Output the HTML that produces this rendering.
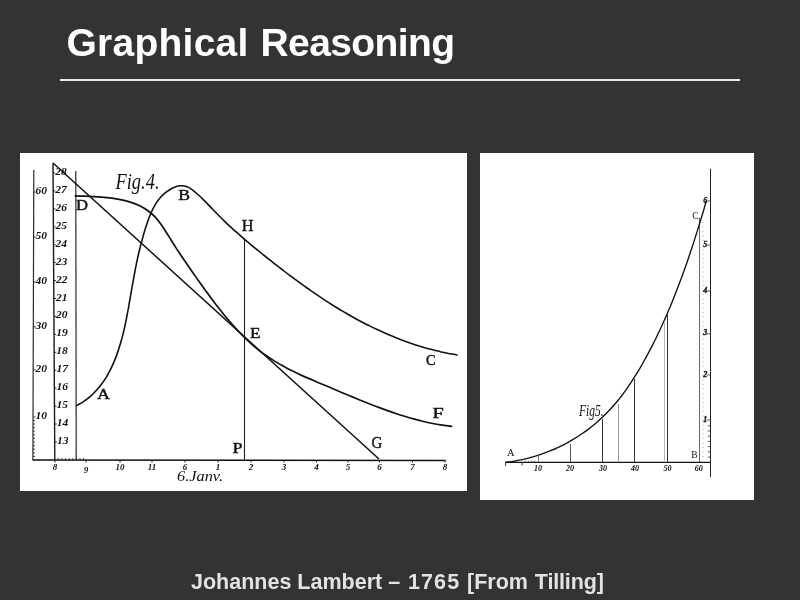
<!DOCTYPE html>
<html><head><meta charset="utf-8"><title>Graphical Reasoning</title>
<style>
html,body{margin:0;padding:0}
body{width:800px;height:600px;background:#333333;position:relative;overflow:hidden;font-family:"Liberation Sans",sans-serif}
h1{position:absolute;left:0;top:20px;margin:0;font-size:39px;line-height:46px;font-weight:bold;color:#fff;white-space:nowrap;width:800px;height:46px}
h1 span,.cap span{position:absolute;top:0}
.rule{position:absolute;left:60px;top:79px;width:680px;height:2px;background:#e9e9e9}
.p1{position:absolute;left:20px;top:153px;width:447px;height:338px;background:#fff}
.p2{position:absolute;left:480px;top:153px;width:274px;height:346.5px;background:#fff}
.cap{position:absolute;left:0;top:570px;margin:0;font-size:21.5px;line-height:24px;font-weight:bold;color:#e3e3e3;white-space:nowrap;width:800px;height:24px}
svg{position:absolute;left:0;top:0}
</style></head><body>
<h1><span style="left:66.5px;letter-spacing:0.25px">Graphical</span> <span style="left:260.5px;letter-spacing:-0.6px">Reasoning</span></h1>
<div class="rule"></div>
<div class="p1"></div>
<div class="p2"></div>
<svg width="800" height="600" viewBox="0 0 800 600">
<line x1="33.8" y1="170.0" x2="32.9" y2="460.0" stroke="#2a2a2a" stroke-width="1.20" />
<line x1="53.0" y1="163.0" x2="54.8" y2="460.0" stroke="#1a1a1a" stroke-width="1.40" />
<line x1="75.8" y1="171.0" x2="76.2" y2="460.0" stroke="#2a2a2a" stroke-width="1.20" />
<line x1="32.5" y1="460.1" x2="445.5" y2="460.6" stroke="#111" stroke-width="1.50" />
<line x1="244.5" y1="238.0" x2="244.5" y2="460.0" stroke="#222" stroke-width="1.10" />
<line x1="53.0" y1="163.0" x2="379.0" y2="459.0" stroke="#111" stroke-width="1.50" />
<path d="M76.4 405.6 C77.6 404.9 81.5 402.9 83.9 401.3 C86.3 399.7 88.5 398.0 90.6 396.1 C92.7 394.3 94.7 392.3 96.5 390.3 C98.4 388.2 100.2 386.1 101.8 383.8 C103.5 381.6 105.0 379.2 106.5 376.8 C107.9 374.4 109.3 371.9 110.5 369.4 C111.8 366.9 113.0 364.3 114.1 361.6 C115.2 359.0 116.2 356.3 117.2 353.6 C118.1 351.0 119.0 348.3 119.8 345.5 C120.7 342.8 121.4 340.1 122.2 337.3 C122.9 334.6 123.6 331.8 124.2 329.1 C124.9 326.3 125.4 323.5 126.0 320.7 C126.6 318.0 127.1 315.2 127.6 312.4 C128.2 309.6 128.7 306.8 129.1 304.0 C129.6 301.3 130.1 298.5 130.6 295.7 C131.1 292.9 131.5 290.2 132.0 287.4 C132.5 284.6 133.0 281.9 133.5 279.2 C134.0 276.4 134.5 273.7 135.0 270.9 C135.5 268.2 136.1 265.5 136.6 262.7 C137.2 260.0 137.8 257.3 138.4 254.5 C139.0 251.8 139.7 249.1 140.4 246.3 C141.1 243.6 141.8 240.9 142.6 238.1 C143.3 235.4 144.1 232.6 145.0 229.8 C145.8 227.1 146.7 224.3 147.7 221.5 C148.7 218.7 149.7 216.0 150.9 213.3 C152.0 210.6 153.3 208.0 154.7 205.6 C156.1 203.1 157.7 200.7 159.5 198.6 C161.3 196.4 163.3 194.4 165.4 192.7 C167.5 191.0 169.8 189.4 172.2 188.2 C174.6 187.1 177.1 186.1 179.6 185.8 C182.1 185.6 184.7 185.8 187.2 186.8 C189.7 187.8 192.2 189.8 194.5 191.6 C196.8 193.4 199.0 195.5 201.2 197.5 C203.3 199.6 205.3 201.6 207.3 203.6 C209.3 205.7 211.2 207.7 213.1 209.8 C215.1 211.8 217.0 213.8 219.0 215.8 C221.0 217.8 223.0 219.8 225.1 221.8 C227.1 223.7 229.2 225.6 231.3 227.6 C233.4 229.5 235.5 231.4 237.6 233.2 C239.7 235.1 241.9 237.0 244.0 238.8 C246.2 240.6 248.3 242.5 250.5 244.3 C252.6 246.1 254.8 247.9 257.0 249.7 C259.1 251.4 261.3 253.2 263.5 255.0 C265.7 256.7 267.9 258.5 270.1 260.2 C272.3 261.9 274.5 263.7 276.7 265.4 C278.9 267.1 281.1 268.8 283.4 270.5 C285.6 272.3 287.8 274.0 290.1 275.6 C292.4 277.3 294.6 279.0 296.9 280.7 C299.2 282.4 301.5 284.0 303.8 285.7 C306.1 287.3 308.4 289.0 310.8 290.6 C313.1 292.2 315.4 293.8 317.8 295.4 C320.1 297.0 322.5 298.5 324.9 300.1 C327.3 301.7 329.6 303.2 332.0 304.7 C334.4 306.2 336.8 307.7 339.3 309.2 C341.7 310.6 344.1 312.1 346.6 313.5 C349.0 314.9 351.5 316.3 354.0 317.7 C356.4 319.1 358.9 320.4 361.4 321.7 C363.9 323.1 366.4 324.4 369.0 325.6 C371.5 326.9 374.0 328.1 376.6 329.3 C379.1 330.5 381.7 331.7 384.2 332.8 C386.8 334.0 389.4 335.1 392.0 336.1 C394.6 337.2 397.2 338.3 399.8 339.3 C402.5 340.3 405.1 341.3 407.8 342.2 C410.4 343.1 413.1 344.0 415.8 344.9 C418.5 345.8 421.1 346.6 423.9 347.4 C426.6 348.2 429.3 348.9 432.0 349.6 C434.7 350.4 437.5 351.0 440.3 351.7 C443.0 352.3 445.8 352.9 448.6 353.5 C451.4 354.0 455.6 354.7 457.0 355.0" fill="none" stroke="#111" stroke-width="1.60" stroke-linecap="round" stroke-linejoin="round"/>
<path d="M75.4 195.9 C77.0 195.9 81.6 196.1 84.8 196.2 C88.0 196.4 91.2 196.5 94.4 196.7 C97.6 196.9 100.9 197.0 104.1 197.3 C107.3 197.6 110.5 197.9 113.6 198.4 C116.8 198.9 119.9 199.4 123.0 200.1 C126.0 200.8 129.0 201.6 131.9 202.6 C134.8 203.5 137.6 204.7 140.3 206.0 C142.9 207.4 145.5 208.9 147.9 210.7 C150.4 212.5 152.7 214.5 154.8 216.7 C156.9 218.9 158.9 221.5 160.8 224.1 C162.7 226.7 164.5 229.5 166.2 232.2 C168.0 235.0 169.7 237.8 171.4 240.5 C173.1 243.3 174.8 246.0 176.5 248.6 C178.2 251.3 180.0 253.9 181.7 256.5 C183.4 259.0 185.2 261.6 186.9 264.1 C188.6 266.7 190.4 269.2 192.2 271.7 C193.9 274.2 195.7 276.7 197.5 279.3 C199.3 281.8 201.1 284.4 203.0 286.9 C204.8 289.5 206.6 292.0 208.5 294.6 C210.4 297.1 212.3 299.7 214.2 302.2 C216.1 304.8 218.1 307.3 220.1 309.8 C222.0 312.3 224.0 314.8 226.1 317.3 C228.1 319.7 230.2 322.2 232.3 324.6 C234.4 327.0 236.6 329.3 238.8 331.6 C241.0 333.9 243.2 336.2 245.5 338.4 C247.7 340.6 250.0 342.7 252.4 344.8 C254.8 346.8 257.2 348.9 259.6 350.8 C262.1 352.7 264.6 354.6 267.2 356.3 C269.7 358.1 272.4 359.8 275.0 361.4 C277.7 363.1 280.4 364.6 283.1 366.1 C285.9 367.6 288.6 369.1 291.4 370.5 C294.2 371.9 297.1 373.2 299.9 374.6 C302.8 375.9 305.7 377.2 308.6 378.4 C311.5 379.7 314.4 380.9 317.3 382.2 C320.2 383.4 323.1 384.6 326.1 385.8 C329.0 387.1 331.9 388.3 334.8 389.5 C337.8 390.7 340.7 392.0 343.6 393.2 C346.5 394.4 349.4 395.6 352.4 396.9 C355.3 398.1 358.2 399.3 361.1 400.5 C364.1 401.6 367.0 402.8 369.9 404.0 C372.9 405.1 375.8 406.3 378.8 407.4 C381.7 408.5 384.7 409.6 387.6 410.6 C390.6 411.7 393.5 412.7 396.5 413.7 C399.5 414.7 402.5 415.6 405.5 416.5 C408.5 417.5 411.5 418.3 414.5 419.1 C417.6 420.0 420.6 420.7 423.7 421.5 C426.7 422.2 429.8 422.9 432.9 423.5 C436.0 424.1 439.1 424.6 442.2 425.1 C445.3 425.6 450.0 426.2 451.6 426.4" fill="none" stroke="#111" stroke-width="1.70" stroke-linecap="round" stroke-linejoin="round"/>
<text x="35.5" y="194.0" font-size="9.5" font-style="italic" font-weight="bold" text-anchor="start" font-family="'Liberation Serif',serif" fill="#111" textLength="11.5" lengthAdjust="spacingAndGlyphs">60</text>
<line x1="33.5" y1="192.0" x2="35.5" y2="192.0" stroke="#222" stroke-width="1.00" />
<text x="35.5" y="239.0" font-size="9.5" font-style="italic" font-weight="bold" text-anchor="start" font-family="'Liberation Serif',serif" fill="#111" textLength="11.5" lengthAdjust="spacingAndGlyphs">50</text>
<line x1="33.5" y1="237.0" x2="35.5" y2="237.0" stroke="#222" stroke-width="1.00" />
<text x="35.5" y="284.0" font-size="9.5" font-style="italic" font-weight="bold" text-anchor="start" font-family="'Liberation Serif',serif" fill="#111" textLength="11.5" lengthAdjust="spacingAndGlyphs">40</text>
<line x1="33.5" y1="282.0" x2="35.5" y2="282.0" stroke="#222" stroke-width="1.00" />
<text x="35.5" y="328.8" font-size="9.5" font-style="italic" font-weight="bold" text-anchor="start" font-family="'Liberation Serif',serif" fill="#111" textLength="11.5" lengthAdjust="spacingAndGlyphs">30</text>
<line x1="33.5" y1="326.8" x2="35.5" y2="326.8" stroke="#222" stroke-width="1.00" />
<text x="35.5" y="371.8" font-size="9.5" font-style="italic" font-weight="bold" text-anchor="start" font-family="'Liberation Serif',serif" fill="#111" textLength="11.5" lengthAdjust="spacingAndGlyphs">20</text>
<line x1="33.5" y1="369.8" x2="35.5" y2="369.8" stroke="#222" stroke-width="1.00" />
<text x="35.5" y="419.0" font-size="9.5" font-style="italic" font-weight="bold" text-anchor="start" font-family="'Liberation Serif',serif" fill="#111" textLength="11.5" lengthAdjust="spacingAndGlyphs">10</text>
<line x1="33.5" y1="417.0" x2="35.5" y2="417.0" stroke="#222" stroke-width="1.00" />
<text x="55.2" y="175.0" font-size="9.5" font-style="italic" font-weight="bold" text-anchor="start" font-family="'Liberation Serif',serif" fill="#111" textLength="11.5" lengthAdjust="spacingAndGlyphs">28</text>
<line x1="53.2" y1="173.0" x2="55.2" y2="173.0" stroke="#222" stroke-width="1.00" />
<text x="55.3" y="192.9" font-size="9.5" font-style="italic" font-weight="bold" text-anchor="start" font-family="'Liberation Serif',serif" fill="#111" textLength="11.5" lengthAdjust="spacingAndGlyphs">27</text>
<line x1="53.3" y1="190.9" x2="55.3" y2="190.9" stroke="#222" stroke-width="1.00" />
<text x="55.4" y="210.9" font-size="9.5" font-style="italic" font-weight="bold" text-anchor="start" font-family="'Liberation Serif',serif" fill="#111" textLength="11.5" lengthAdjust="spacingAndGlyphs">26</text>
<line x1="53.4" y1="208.9" x2="55.4" y2="208.9" stroke="#222" stroke-width="1.00" />
<text x="55.5" y="228.8" font-size="9.5" font-style="italic" font-weight="bold" text-anchor="start" font-family="'Liberation Serif',serif" fill="#111" textLength="11.5" lengthAdjust="spacingAndGlyphs">25</text>
<line x1="53.5" y1="226.8" x2="55.5" y2="226.8" stroke="#222" stroke-width="1.00" />
<text x="55.6" y="246.7" font-size="9.5" font-style="italic" font-weight="bold" text-anchor="start" font-family="'Liberation Serif',serif" fill="#111" textLength="11.5" lengthAdjust="spacingAndGlyphs">24</text>
<line x1="53.6" y1="244.7" x2="55.6" y2="244.7" stroke="#222" stroke-width="1.00" />
<text x="55.8" y="264.6" font-size="9.5" font-style="italic" font-weight="bold" text-anchor="start" font-family="'Liberation Serif',serif" fill="#111" textLength="11.5" lengthAdjust="spacingAndGlyphs">23</text>
<line x1="53.8" y1="262.6" x2="55.8" y2="262.6" stroke="#222" stroke-width="1.00" />
<text x="55.9" y="282.6" font-size="9.5" font-style="italic" font-weight="bold" text-anchor="start" font-family="'Liberation Serif',serif" fill="#111" textLength="11.5" lengthAdjust="spacingAndGlyphs">22</text>
<line x1="53.9" y1="280.6" x2="55.9" y2="280.6" stroke="#222" stroke-width="1.00" />
<text x="56.0" y="300.5" font-size="9.5" font-style="italic" font-weight="bold" text-anchor="start" font-family="'Liberation Serif',serif" fill="#111" textLength="11.5" lengthAdjust="spacingAndGlyphs">21</text>
<line x1="54.0" y1="298.5" x2="56.0" y2="298.5" stroke="#222" stroke-width="1.00" />
<text x="56.1" y="318.4" font-size="9.5" font-style="italic" font-weight="bold" text-anchor="start" font-family="'Liberation Serif',serif" fill="#111" textLength="11.5" lengthAdjust="spacingAndGlyphs">20</text>
<line x1="54.1" y1="316.4" x2="56.1" y2="316.4" stroke="#222" stroke-width="1.00" />
<text x="56.2" y="336.4" font-size="9.5" font-style="italic" font-weight="bold" text-anchor="start" font-family="'Liberation Serif',serif" fill="#111" textLength="11.5" lengthAdjust="spacingAndGlyphs">19</text>
<line x1="54.2" y1="334.4" x2="56.2" y2="334.4" stroke="#222" stroke-width="1.00" />
<text x="56.3" y="354.3" font-size="9.5" font-style="italic" font-weight="bold" text-anchor="start" font-family="'Liberation Serif',serif" fill="#111" textLength="11.5" lengthAdjust="spacingAndGlyphs">18</text>
<line x1="54.3" y1="352.3" x2="56.3" y2="352.3" stroke="#222" stroke-width="1.00" />
<text x="56.4" y="372.2" font-size="9.5" font-style="italic" font-weight="bold" text-anchor="start" font-family="'Liberation Serif',serif" fill="#111" textLength="11.5" lengthAdjust="spacingAndGlyphs">17</text>
<line x1="54.4" y1="370.2" x2="56.4" y2="370.2" stroke="#222" stroke-width="1.00" />
<text x="56.5" y="390.2" font-size="9.5" font-style="italic" font-weight="bold" text-anchor="start" font-family="'Liberation Serif',serif" fill="#111" textLength="11.5" lengthAdjust="spacingAndGlyphs">16</text>
<line x1="54.5" y1="388.2" x2="56.5" y2="388.2" stroke="#222" stroke-width="1.00" />
<text x="56.6" y="408.1" font-size="9.5" font-style="italic" font-weight="bold" text-anchor="start" font-family="'Liberation Serif',serif" fill="#111" textLength="11.5" lengthAdjust="spacingAndGlyphs">15</text>
<line x1="54.6" y1="406.1" x2="56.6" y2="406.1" stroke="#222" stroke-width="1.00" />
<text x="56.7" y="426.0" font-size="9.5" font-style="italic" font-weight="bold" text-anchor="start" font-family="'Liberation Serif',serif" fill="#111" textLength="11.5" lengthAdjust="spacingAndGlyphs">14</text>
<line x1="54.7" y1="424.0" x2="56.7" y2="424.0" stroke="#222" stroke-width="1.00" />
<text x="56.9" y="443.9" font-size="9.5" font-style="italic" font-weight="bold" text-anchor="start" font-family="'Liberation Serif',serif" fill="#111" textLength="11.5" lengthAdjust="spacingAndGlyphs">13</text>
<line x1="54.9" y1="441.9" x2="56.9" y2="441.9" stroke="#222" stroke-width="1.00" />
<line x1="33.0" y1="456.4" x2="35.0" y2="456.4" stroke="#333" stroke-width="0.90" />
<line x1="33.0" y1="452.8" x2="35.0" y2="452.8" stroke="#333" stroke-width="0.90" />
<line x1="33.0" y1="449.2" x2="35.0" y2="449.2" stroke="#333" stroke-width="0.90" />
<line x1="33.0" y1="445.6" x2="35.0" y2="445.6" stroke="#333" stroke-width="0.90" />
<line x1="33.0" y1="442.0" x2="35.0" y2="442.0" stroke="#333" stroke-width="0.90" />
<line x1="33.0" y1="438.4" x2="35.0" y2="438.4" stroke="#333" stroke-width="0.90" />
<line x1="33.0" y1="434.8" x2="35.0" y2="434.8" stroke="#333" stroke-width="0.90" />
<line x1="33.0" y1="431.2" x2="35.0" y2="431.2" stroke="#333" stroke-width="0.90" />
<line x1="33.0" y1="427.6" x2="35.0" y2="427.6" stroke="#333" stroke-width="0.90" />
<line x1="33.0" y1="424.0" x2="35.0" y2="424.0" stroke="#333" stroke-width="0.90" />
<line x1="33.0" y1="420.4" x2="35.0" y2="420.4" stroke="#333" stroke-width="0.90" />
<line x1="58.4" y1="460.0" x2="58.4" y2="458.0" stroke="#333" stroke-width="0.90" />
<line x1="62.0" y1="460.0" x2="62.0" y2="458.0" stroke="#333" stroke-width="0.90" />
<line x1="65.5" y1="460.0" x2="65.5" y2="458.0" stroke="#333" stroke-width="0.90" />
<line x1="69.2" y1="460.0" x2="69.2" y2="458.0" stroke="#333" stroke-width="0.90" />
<line x1="72.8" y1="460.0" x2="72.8" y2="458.0" stroke="#333" stroke-width="0.90" />
<line x1="76.3" y1="460.0" x2="76.3" y2="458.0" stroke="#333" stroke-width="0.90" />
<line x1="80.0" y1="460.0" x2="80.0" y2="458.0" stroke="#333" stroke-width="0.90" />
<line x1="83.5" y1="460.0" x2="83.5" y2="458.0" stroke="#333" stroke-width="0.90" />
<text x="55.0" y="470.0" font-size="9.0" font-style="italic" font-weight="bold" text-anchor="middle" font-family="'Liberation Serif',serif" fill="#111" >8</text>
<line x1="55.0" y1="460.0" x2="55.0" y2="462.5" stroke="#222" stroke-width="1.00" />
<text x="86.0" y="472.5" font-size="9.0" font-style="italic" font-weight="bold" text-anchor="middle" font-family="'Liberation Serif',serif" fill="#111" >9</text>
<line x1="86.0" y1="460.0" x2="86.0" y2="462.5" stroke="#222" stroke-width="1.00" />
<text x="120.0" y="470.0" font-size="9.0" font-style="italic" font-weight="bold" text-anchor="middle" font-family="'Liberation Serif',serif" fill="#111" >10</text>
<line x1="120.0" y1="460.0" x2="120.0" y2="462.5" stroke="#222" stroke-width="1.00" />
<text x="152.0" y="470.0" font-size="9.0" font-style="italic" font-weight="bold" text-anchor="middle" font-family="'Liberation Serif',serif" fill="#111" >11</text>
<line x1="152.0" y1="460.0" x2="152.0" y2="462.5" stroke="#222" stroke-width="1.00" />
<text x="185.0" y="470.0" font-size="9.0" font-style="italic" font-weight="bold" text-anchor="middle" font-family="'Liberation Serif',serif" fill="#111" >6</text>
<line x1="185.0" y1="460.0" x2="185.0" y2="462.5" stroke="#222" stroke-width="1.00" />
<text x="218.0" y="470.0" font-size="9.0" font-style="italic" font-weight="bold" text-anchor="middle" font-family="'Liberation Serif',serif" fill="#111" >1</text>
<line x1="218.0" y1="460.0" x2="218.0" y2="462.5" stroke="#222" stroke-width="1.00" />
<text x="251.0" y="470.0" font-size="9.0" font-style="italic" font-weight="bold" text-anchor="middle" font-family="'Liberation Serif',serif" fill="#111" >2</text>
<line x1="251.0" y1="460.0" x2="251.0" y2="462.5" stroke="#222" stroke-width="1.00" />
<text x="284.0" y="470.0" font-size="9.0" font-style="italic" font-weight="bold" text-anchor="middle" font-family="'Liberation Serif',serif" fill="#111" >3</text>
<line x1="284.0" y1="460.0" x2="284.0" y2="462.5" stroke="#222" stroke-width="1.00" />
<text x="316.5" y="470.0" font-size="9.0" font-style="italic" font-weight="bold" text-anchor="middle" font-family="'Liberation Serif',serif" fill="#111" >4</text>
<line x1="316.5" y1="460.0" x2="316.5" y2="462.5" stroke="#222" stroke-width="1.00" />
<text x="348.0" y="470.0" font-size="9.0" font-style="italic" font-weight="bold" text-anchor="middle" font-family="'Liberation Serif',serif" fill="#111" >5</text>
<line x1="348.0" y1="460.0" x2="348.0" y2="462.5" stroke="#222" stroke-width="1.00" />
<text x="379.5" y="470.0" font-size="9.0" font-style="italic" font-weight="bold" text-anchor="middle" font-family="'Liberation Serif',serif" fill="#111" >6</text>
<line x1="379.5" y1="460.0" x2="379.5" y2="462.5" stroke="#222" stroke-width="1.00" />
<text x="412.5" y="470.0" font-size="9.0" font-style="italic" font-weight="bold" text-anchor="middle" font-family="'Liberation Serif',serif" fill="#111" >7</text>
<line x1="412.5" y1="460.0" x2="412.5" y2="462.5" stroke="#222" stroke-width="1.00" />
<text x="445.0" y="470.0" font-size="9.0" font-style="italic" font-weight="bold" text-anchor="middle" font-family="'Liberation Serif',serif" fill="#111" >8</text>
<line x1="445.0" y1="460.0" x2="445.0" y2="462.5" stroke="#222" stroke-width="1.00" />
<text x="177.0" y="481.0" font-size="15.0" font-style="italic" font-weight="normal" text-anchor="start" font-family="'Liberation Serif',serif" fill="#111" textLength="46" lengthAdjust="spacingAndGlyphs">6.Janv.</text>
<text x="115.5" y="189.0" font-size="23.5" font-style="italic" font-weight="normal" text-anchor="start" font-family="'Liberation Serif',serif" fill="#111" textLength="44" lengthAdjust="spacingAndGlyphs">Fig.4.</text>
<text x="76.1" y="210.1" font-size="15.5" font-style="normal" font-weight="normal" text-anchor="start" font-family="'Liberation Serif',serif" fill="#111" stroke="#111" stroke-width="0.45" textLength="12.0" lengthAdjust="spacingAndGlyphs">D</text>
<text x="178.2" y="200.1" font-size="15.0" font-style="normal" font-weight="normal" text-anchor="start" font-family="'Liberation Serif',serif" fill="#111" stroke="#111" stroke-width="0.45" textLength="11.8" lengthAdjust="spacingAndGlyphs">B</text>
<text x="241.8" y="230.6" font-size="16.5" font-style="normal" font-weight="normal" text-anchor="start" font-family="'Liberation Serif',serif" fill="#111" stroke="#111" stroke-width="0.45" textLength="11.8" lengthAdjust="spacingAndGlyphs">H</text>
<text x="250.0" y="337.5" font-size="15.0" font-style="normal" font-weight="normal" text-anchor="start" font-family="'Liberation Serif',serif" fill="#111" stroke="#111" stroke-width="0.45" textLength="10.5" lengthAdjust="spacingAndGlyphs">E</text>
<text x="97.0" y="398.8" font-size="15.0" font-style="normal" font-weight="normal" text-anchor="start" font-family="'Liberation Serif',serif" fill="#111" stroke="#111" stroke-width="0.45" textLength="13.0" lengthAdjust="spacingAndGlyphs">A</text>
<text x="232.5" y="452.5" font-size="15.0" font-style="normal" font-weight="normal" text-anchor="start" font-family="'Liberation Serif',serif" fill="#111" stroke="#111" stroke-width="0.45" textLength="10.0" lengthAdjust="spacingAndGlyphs">P</text>
<text x="426.0" y="365.4" font-size="15.5" font-style="normal" font-weight="normal" text-anchor="start" font-family="'Liberation Serif',serif" fill="#111" stroke="#111" stroke-width="0.45" textLength="9.6" lengthAdjust="spacingAndGlyphs">C</text>
<text x="432.4" y="417.6" font-size="15.5" font-style="normal" font-weight="normal" text-anchor="start" font-family="'Liberation Serif',serif" fill="#111" stroke="#111" stroke-width="0.45" textLength="11.2" lengthAdjust="spacingAndGlyphs">F</text>
<text x="371.6" y="447.8" font-size="16.0" font-style="normal" font-weight="normal" text-anchor="start" font-family="'Liberation Serif',serif" fill="#111" stroke="#111" stroke-width="0.45" textLength="10.8" lengthAdjust="spacingAndGlyphs">G</text>
<line x1="710.5" y1="168.8" x2="710.5" y2="477.0" stroke="#222" stroke-width="1.00" />
<line x1="699.5" y1="217.5" x2="699.5" y2="462.4" stroke="#444" stroke-width="0.80" />
<line x1="703.0" y1="222.0" x2="703.0" y2="458.0" stroke="#999" stroke-width="0.80" stroke-dasharray="1 3.5"/>
<line x1="707.8" y1="457.0" x2="710.5" y2="457.0" stroke="#333" stroke-width="0.80" />
<line x1="707.8" y1="451.8" x2="710.5" y2="451.8" stroke="#333" stroke-width="0.80" />
<line x1="707.8" y1="446.6" x2="710.5" y2="446.6" stroke="#333" stroke-width="0.80" />
<line x1="707.8" y1="441.4" x2="710.5" y2="441.4" stroke="#333" stroke-width="0.80" />
<line x1="707.8" y1="436.2" x2="710.5" y2="436.2" stroke="#333" stroke-width="0.80" />
<line x1="707.8" y1="431.0" x2="710.5" y2="431.0" stroke="#333" stroke-width="0.80" />
<line x1="707.8" y1="425.8" x2="710.5" y2="425.8" stroke="#333" stroke-width="0.80" />
<line x1="505.6" y1="462.4" x2="710.0" y2="462.4" stroke="#111" stroke-width="1.20" />
<path d="M505.6 462.4 C507.1 462.2 511.5 461.6 514.5 461.1 C517.5 460.6 520.4 460.0 523.4 459.4 C526.3 458.7 529.2 458.0 532.1 457.1 C535.1 456.3 537.9 455.4 540.8 454.4 C543.7 453.4 546.5 452.4 549.3 451.2 C552.1 450.1 554.9 448.9 557.7 447.6 C560.4 446.4 563.1 445.0 565.8 443.6 C568.4 442.2 571.1 440.7 573.6 439.2 C576.2 437.6 578.7 436.0 581.2 434.3 C583.7 432.6 586.1 430.9 588.5 429.1 C590.9 427.3 593.2 425.4 595.5 423.5 C597.8 421.6 600.0 419.6 602.1 417.6 C604.3 415.5 606.4 413.4 608.4 411.3 C610.4 409.2 612.4 407.0 614.3 404.7 C616.3 402.5 618.1 400.2 620.0 397.9 C621.8 395.5 623.6 393.2 625.3 390.8 C627.0 388.3 628.7 385.9 630.4 383.4 C632.0 381.0 633.6 378.5 635.2 375.9 C636.8 373.4 638.3 370.8 639.9 368.3 C641.4 365.7 642.9 363.1 644.3 360.5 C645.8 357.8 647.2 355.2 648.6 352.6 C650.0 349.9 651.4 347.2 652.8 344.6 C654.1 341.9 655.5 339.2 656.8 336.5 C658.1 333.8 659.4 331.1 660.7 328.3 C661.9 325.6 663.2 322.9 664.4 320.1 C665.7 317.3 666.9 314.6 668.0 311.8 C669.2 309.0 670.4 306.2 671.5 303.4 C672.7 300.6 673.8 297.8 674.9 295.0 C676.0 292.2 677.1 289.4 678.2 286.6 C679.3 283.8 680.3 280.9 681.4 278.1 C682.4 275.3 683.5 272.4 684.5 269.6 C685.5 266.7 686.5 263.9 687.5 261.0 C688.4 258.2 689.4 255.3 690.3 252.5 C691.3 249.6 692.2 246.8 693.2 243.9 C694.1 241.1 695.0 238.2 695.9 235.4 C696.8 232.5 697.7 229.7 698.6 226.8 C699.5 224.0 700.3 221.1 701.2 218.3 C702.1 215.4 702.9 212.6 703.8 209.7 C704.6 206.9 705.8 202.7 706.3 201.3" fill="none" stroke="#111" stroke-width="1.35" stroke-linecap="round" stroke-linejoin="round"/>
<line x1="538.5" y1="455.0" x2="538.5" y2="462.4" stroke="#555" stroke-width="0.80" />
<line x1="570.5" y1="444.0" x2="570.5" y2="462.4" stroke="#444" stroke-width="0.90" />
<line x1="602.5" y1="419.0" x2="602.5" y2="462.4" stroke="#333" stroke-width="1.00" />
<line x1="618.5" y1="404.0" x2="618.5" y2="462.4" stroke="#777" stroke-width="0.80" />
<line x1="634.5" y1="379.0" x2="634.5" y2="462.4" stroke="#333" stroke-width="1.00" />
<line x1="664.5" y1="323.0" x2="664.5" y2="462.4" stroke="#999" stroke-width="0.70" />
<line x1="667.5" y1="313.0" x2="667.5" y2="462.4" stroke="#333" stroke-width="1.00" />
<text x="538.0" y="471.0" font-size="7.5" font-style="italic" font-weight="bold" text-anchor="middle" font-family="'Liberation Serif',serif" fill="#111" textLength="8" lengthAdjust="spacingAndGlyphs">10</text>
<text x="570.0" y="471.0" font-size="7.5" font-style="italic" font-weight="bold" text-anchor="middle" font-family="'Liberation Serif',serif" fill="#111" textLength="8" lengthAdjust="spacingAndGlyphs">20</text>
<text x="603.0" y="471.0" font-size="7.5" font-style="italic" font-weight="bold" text-anchor="middle" font-family="'Liberation Serif',serif" fill="#111" textLength="8" lengthAdjust="spacingAndGlyphs">30</text>
<text x="635.0" y="471.0" font-size="7.5" font-style="italic" font-weight="bold" text-anchor="middle" font-family="'Liberation Serif',serif" fill="#111" textLength="8" lengthAdjust="spacingAndGlyphs">40</text>
<text x="667.6" y="471.0" font-size="7.5" font-style="italic" font-weight="bold" text-anchor="middle" font-family="'Liberation Serif',serif" fill="#111" textLength="8" lengthAdjust="spacingAndGlyphs">50</text>
<text x="698.7" y="471.0" font-size="7.5" font-style="italic" font-weight="bold" text-anchor="middle" font-family="'Liberation Serif',serif" fill="#111" textLength="8" lengthAdjust="spacingAndGlyphs">60</text>
<text x="705.2" y="202.6" font-size="8.0" font-style="italic" font-weight="bold" text-anchor="middle" font-family="'Liberation Serif',serif" fill="#111" stroke="#111" stroke-width="0.3">6</text>
<line x1="706.5" y1="201.0" x2="710.0" y2="201.0" stroke="#333" stroke-width="0.80" />
<text x="705.2" y="246.6" font-size="8.0" font-style="italic" font-weight="bold" text-anchor="middle" font-family="'Liberation Serif',serif" fill="#111" stroke="#111" stroke-width="0.3">5</text>
<line x1="706.5" y1="245.0" x2="710.0" y2="245.0" stroke="#333" stroke-width="0.80" />
<text x="705.2" y="292.6" font-size="8.0" font-style="italic" font-weight="bold" text-anchor="middle" font-family="'Liberation Serif',serif" fill="#111" stroke="#111" stroke-width="0.3">4</text>
<line x1="706.5" y1="291.0" x2="710.0" y2="291.0" stroke="#333" stroke-width="0.80" />
<text x="705.2" y="335.4" font-size="8.0" font-style="italic" font-weight="bold" text-anchor="middle" font-family="'Liberation Serif',serif" fill="#111" stroke="#111" stroke-width="0.3">3</text>
<line x1="706.5" y1="333.8" x2="710.0" y2="333.8" stroke="#333" stroke-width="0.80" />
<text x="705.2" y="376.6" font-size="8.0" font-style="italic" font-weight="bold" text-anchor="middle" font-family="'Liberation Serif',serif" fill="#111" stroke="#111" stroke-width="0.3">2</text>
<line x1="706.5" y1="375.0" x2="710.0" y2="375.0" stroke="#333" stroke-width="0.80" />
<text x="705.2" y="421.6" font-size="8.0" font-style="italic" font-weight="bold" text-anchor="middle" font-family="'Liberation Serif',serif" fill="#111" stroke="#111" stroke-width="0.3">1</text>
<line x1="706.5" y1="420.0" x2="710.0" y2="420.0" stroke="#333" stroke-width="0.80" />
<text x="507.0" y="455.6" font-size="10.5" font-style="normal" font-weight="normal" text-anchor="start" font-family="'Liberation Serif',serif" fill="#111" >A</text>
<text x="691.2" y="458.2" font-size="9.5" font-style="normal" font-weight="normal" text-anchor="start" font-family="'Liberation Serif',serif" fill="#111" >B</text>
<text x="692.3" y="218.8" font-size="9.5" font-style="normal" font-weight="normal" text-anchor="start" font-family="'Liberation Serif',serif" fill="#111" >C</text>
<text x="579.0" y="416.4" font-size="16.0" font-style="italic" font-weight="normal" text-anchor="start" font-family="'Liberation Serif',serif" fill="#111" textLength="24.5" lengthAdjust="spacingAndGlyphs">Fig5.</text>
<line x1="505.6" y1="462.4" x2="505.6" y2="466.0" stroke="#222" stroke-width="0.90" />
<line x1="522.0" y1="462.4" x2="522.0" y2="465.5" stroke="#222" stroke-width="0.90" />
<line x1="525.2" y1="462.4" x2="525.2" y2="460.8" stroke="#333" stroke-width="0.70" />
<line x1="528.4" y1="462.4" x2="528.4" y2="460.8" stroke="#333" stroke-width="0.70" />
<line x1="531.6" y1="462.4" x2="531.6" y2="460.8" stroke="#333" stroke-width="0.70" />
<line x1="534.8" y1="462.4" x2="534.8" y2="460.8" stroke="#333" stroke-width="0.70" />
</svg>
<p class="cap"><span style="left:191px">Johannes Lambert –</span> <span style="left:408px;letter-spacing:1.1px">1765</span> <span style="left:467px">[From</span> <span style="left:534.8px;letter-spacing:-0.15px">Tilling]</span></p>
</body></html>
